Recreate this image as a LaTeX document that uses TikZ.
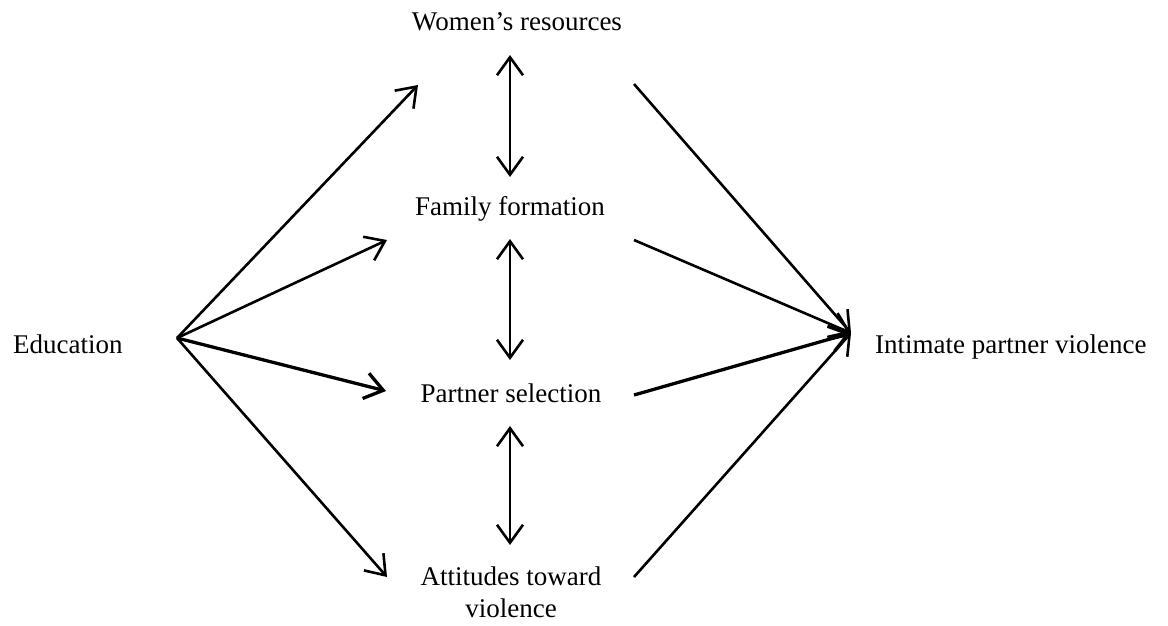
\documentclass[tikz,border=0pt]{standalone}
\usepackage{fontspec}
\setmainfont{Liberation Serif}
\usetikzlibrary{arrows.meta}
\begin{document}
\begin{tikzpicture}[x=1pt,y=-1pt,
  lbl/.style={inner sep=0pt, anchor=base, font=\fontsize{27}{32}\selectfont},
  tip/.style={},
  link/.style={line width=2.6pt, -{Straight Barb[length=18pt,width=26pt]}},
  dlink/.style={line width=2.6pt, {Straight Barb[length=18pt,width=26pt]}-{Straight Barb[length=18pt,width=26pt]}},
  thick link/.style={link, line width=3.3pt}]
\useasboundingbox[fill=white] (0,0) rectangle (1168,625);
\node[lbl, anchor=base west] (edu) at (13,353) {Education};
\node[lbl, anchor=base west] (ipv) at (875,353) {Intimate partner violence};
\node[lbl] (wr) at (517,30) {Women’s resources};
\node[lbl] (ff) at (510,215) {Family formation};
\node[lbl] (ps) at (511,402) {Partner selection};
\node[lbl, align=center] (at) at (511,617) {Attitudes toward\\violence};
% arrow end points
\coordinate (eo) at (177,338);
\coordinate (wrin) at (418,85);
\coordinate (ffin) at (387,240);
\coordinate (psin) at (386,391);
\coordinate (atin) at (387,577);
\coordinate (wrout) at (634,84);
\coordinate (ffout) at (634,240);
\coordinate (psout) at (634,395);
\coordinate (atout) at (634,577);
\coordinate (ipvin) at (851,333);
\coordinate (wrb) at (510,55);
\coordinate (ffa) at (510,177);
\coordinate (ffb) at (510,239);
\coordinate (psa) at (510,360);
\coordinate (psb) at (510,426);
\coordinate (ata) at (510,545);
% connectors
\draw[link] (eo) -- (wrin);
\draw[link] (eo) -- (ffin);
\draw[thick link] (eo) -- (psin);
\draw[link] (eo) -- (atin);
\draw[link] (wrout) -- (ipvin);
\draw[link] (ffout) -- (ipvin);
\draw[thick link] (psout) -- (ipvin);
\draw[link] (atout) -- (ipvin);
\draw[dlink] (wrb) -- (ffa);
\draw[dlink] (ffb) -- (psa);
\draw[dlink] (psb) -- (ata);
\end{tikzpicture}
\end{document}
